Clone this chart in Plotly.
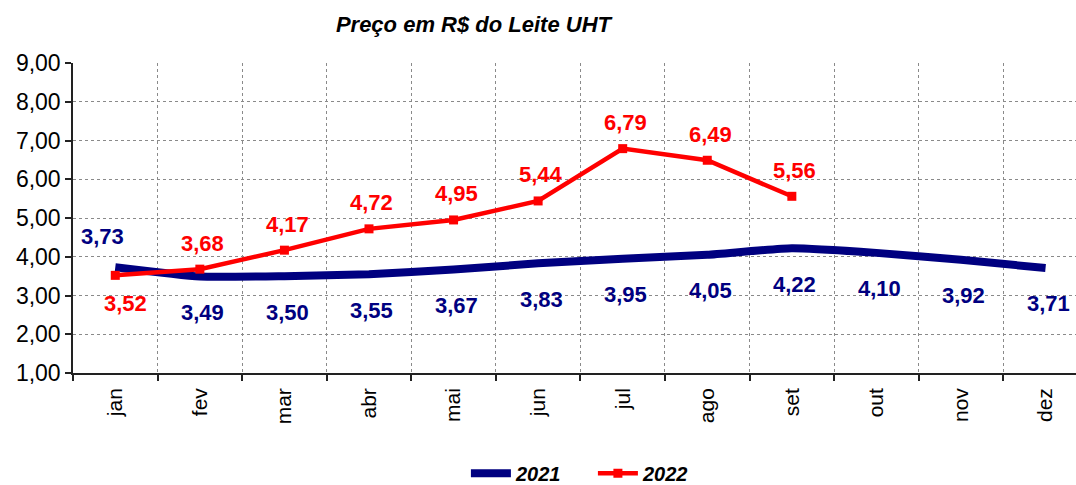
import plotly.graph_objects as go

months = ["jan", "fev", "mar", "abr", "mai", "jun", "jul", "ago", "set", "out", "nov", "dez"]
price_2021 = [3.73, 3.49, 3.50, 3.55, 3.67, 3.83, 3.95, 4.05, 4.22, 4.10, 3.92, 3.71]
price_2022 = [3.52, 3.68, 4.17, 4.72, 4.95, 5.44, 6.79, 6.49, 5.56]
title_text = "Preço em R$ do Leite UHT"

BLUE = "#000080"
RED = "#FF0000"
FONT = "Liberation Sans, Arial, sans-serif"

def fmt(v):
    return f"{v:.2f}".replace(".", ",")

fig = go.Figure()
fig.add_trace(go.Scatter(
    x=months, y=price_2021, name="2021", mode="lines",
    line=dict(color=BLUE, width=8, shape="spline", smoothing=0.5),
))
fig.add_trace(go.Scatter(
    x=months[:len(price_2022)], y=price_2022, name="2022", mode="lines+markers",
    line=dict(color=RED, width=4.5),
    marker=dict(symbol="square", size=9, color=RED),
))

annotations = []
for i, v in enumerate(price_2021):
    if i == 0:
        xs, ys = -13, 31
    else:
        xs, ys = 3, -36
    annotations.append(dict(x=months[i], y=v, xref="x", yref="y", text=fmt(v), showarrow=False,
                            xshift=xs, yshift=ys,
                            font=dict(family=FONT, size=22, color=BLUE, weight="bold")))
for i, v in enumerate(price_2022):
    if i == 0:
        xs, ys = 10, -28
    else:
        xs, ys = 3, 26
    annotations.append(dict(x=months[i], y=v, xref="x", yref="y", text=fmt(v), showarrow=False,
                            xshift=xs, yshift=ys,
                            font=dict(family=FONT, size=22, color=RED, weight="bold")))

fig.update_layout(
    width=1076, height=485,
    margin=dict(l=73, r=0, t=63, b=112, autoexpand=False),
    paper_bgcolor="white", plot_bgcolor="white",
    separators=",.",
    font=dict(family=FONT, color="black"),
    title=dict(text=title_text, x=0.44, xanchor="center", yref="container", y=0.95,
               yanchor="middle",
               font=dict(family=FONT, size=22, color="black", weight="bold", style="italic")),
    showlegend=True,
    legend=dict(orientation="h", xref="container", x=0.433, xanchor="left",
                yref="container", y=0.024, yanchor="middle",
                font=dict(family=FONT, size=20, color="black", weight="bold", style="italic"),
                itemwidth=40, entrywidth=72, traceorder="normal"),
    annotations=annotations,
)
fig.update_xaxes(
    type="category", categoryorder="array", categoryarray=months,
    range=[-0.5, 11.36], tickson="boundaries", automargin=False,
    showgrid=True, gridcolor="#8a8a8a", griddash="dot", gridwidth=1,
    showline=True, linecolor="#222", linewidth=1.5,
    ticks="outside", ticklen=6, tickcolor="#222", tickwidth=1.5,
    tickangle=-90, tickfont=dict(family=FONT, size=21, color="black"),
    ticklabelstandoff=5,
    zeroline=False,
)
fig.update_yaxes(
    range=[1, 9], dtick=1, tick0=1, tickformat=".2f", automargin=False,
    showgrid=True, gridcolor="#8a8a8a", griddash="dot", gridwidth=1,
    showline=True, linecolor="#222", linewidth=1.5,
    ticks="outside", ticklen=6, tickcolor="#222", tickwidth=1.5,
    tickfont=dict(family=FONT, size=23, color="black"),
    zeroline=False,
)
fig.write_html("out.html", config={"displayModeBar": False},
               post_script="document.body.style.margin='0';document.body.style.overflow='hidden';")
